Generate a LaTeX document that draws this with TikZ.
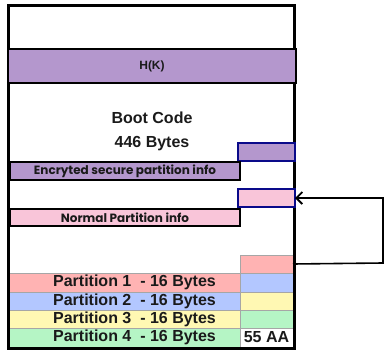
\documentclass[tikz,border=0pt]{standalone}
\usepackage{fontspec}
\setmainfont{Liberation Sans}
\newfontfamily\gothic{Poppins}
\usetikzlibrary{arrows.meta}
\definecolor{purp}{HTML}{B497CD}
\definecolor{pinkc}{HTML}{F9C5D9}
\definecolor{salmon}{HTML}{FFB3B3}
\definecolor{bluec}{HTML}{B3C7FF}
\definecolor{yellowc}{HTML}{FFF8B3}
\definecolor{greenc}{HTML}{B5F5C5}
\definecolor{navy}{HTML}{0A0A8A}
\definecolor{txt}{HTML}{1A1A1A}
\tikzset{
  blk/.style={draw=black, line width=2.5pt, inner sep=0pt, outer sep=0pt, anchor=north west, text=txt},
  nav/.style={draw=navy, line width=2.2pt, inner sep=0pt, outer sep=0pt, anchor=north west},
  cell/.style={draw=gray!70, line width=0.6pt, inner sep=0pt, outer sep=0pt, anchor=north west, text=txt},
  lbl/.style={inner sep=0pt, text=txt, font=\bfseries},
  conn/.style={line width=1.6pt, draw=black}
}
\begin{document}
\begin{tikzpicture}[x=1pt,y=-1pt]
\useasboundingbox (0,0) rectangle (384,351);
% partition table
\node[cell, fill=salmon, minimum width=53, minimum height=18] (c0) at (240,255) {};
\node[cell, fill=salmon, minimum width=232, minimum height=19] (p1) at (8,273) {};
\node[cell, fill=bluec, minimum width=232, minimum height=18] (p2) at (8,292) {};
\node[cell, fill=yellowc, minimum width=232, minimum height=18] (p3) at (8,310) {};
\node[cell, fill=greenc, minimum width=232, minimum height=19] (p4) at (8,328) {};
\node[cell, fill=bluec, minimum width=53, minimum height=19] (c1) at (240,273) {};
\node[cell, fill=yellowc, minimum width=53, minimum height=18] (c2) at (240,292) {};
\node[cell, fill=greenc, minimum width=53, minimum height=18] (c3) at (240,310) {};
\node[cell, fill=white, minimum width=53, minimum height=19] (c4) at (240,328) {};
\node[lbl, font=\bfseries\fontsize{16}{18}\selectfont] (t1) at (134.5,282.5) {Partition 1\ \ - 16 Bytes};
\node[lbl, font=\bfseries\fontsize{16}{18}\selectfont] (t2) at (134.5,301) {Partition 2\ \ - 16 Bytes};
\node[lbl, font=\bfseries\fontsize{16}{18}\selectfont] (t3) at (134.5,319) {Partition 3\ \ - 16 Bytes};
\node[lbl, font=\bfseries\fontsize{16}{18}\selectfont] (t4) at (134.5,337.5) {Partition 4\ \ - 16 Bytes};
\node[lbl, font=\bfseries\fontsize{16}{18}\selectfont] (aa) at (266.5,337.5) {55 AA};
% outer box
\node[blk, line width=3pt, minimum width=286, minimum height=343] (outer) at (8,5) {};
% H(K)
\node[blk, fill=purp, minimum width=288, minimum height=34, font=\bfseries\fontsize{12}{14}\selectfont] (hk) at (8,49) {H(K)};
% boot code
\node[lbl, align=center, font=\bfseries\fontsize{16}{24}\selectfont] (boot) at (152,131) {Boot Code\\446 Bytes};
% small boxes
\node[nav, fill=purp, minimum width=57, minimum height=18] (sp) at (238,143) {};
\node[nav, fill=pinkc, minimum width=57, minimum height=18] (sn) at (238,189) {};
% info boxes
\node[blk, fill=purp, minimum width=230, minimum height=18, font=\gothic\bfseries\fontsize{12}{14}\selectfont] (enc) at (10,162) {Encryted secure partition info};
\node[blk, fill=pinkc, minimum width=230, minimum height=17, font=\gothic\bfseries\fontsize{12}{14}\selectfont] (norm) at (10,209) {Normal Partition info};
% connector
\coordinate (r) at (383,263);
\draw[conn, -{Straight Barb[length=6pt,width=12pt,line width=1.8pt]}] (c0.east) -- (r) |- (sn.east);
\end{tikzpicture}
\end{document}
